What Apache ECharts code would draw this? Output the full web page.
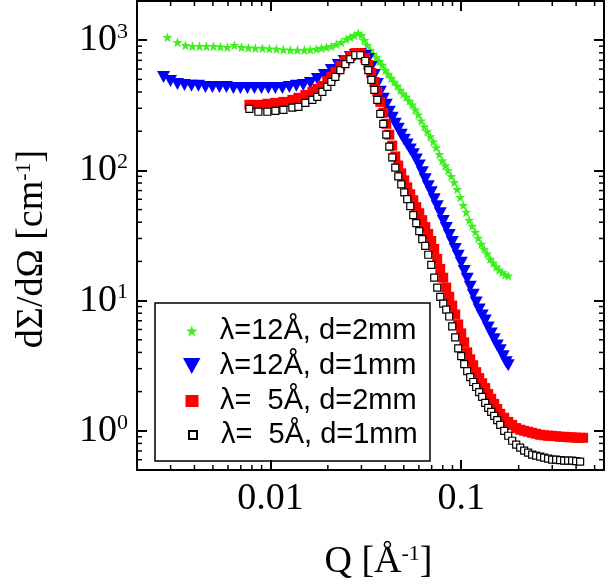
<!DOCTYPE html>
<html><head><meta charset="utf-8">
<script src="https://cdn.jsdelivr.net/npm/echarts@6/dist/echarts.min.js"></script>
<style>html,body{margin:0;padding:0;background:#fff}#c{width:610px;height:586px}</style>
</head><body><div id="c"></div>
<script>
const seriesNames = ['λ=12Å, d=2mm', 'λ=12Å, d=1mm', 'λ=  5Å, d=2mm', 'λ=  5Å, d=1mm'];

const qGreen = [0.002889,0.003259,0.003589,0.003905,0.004248,0.004623,0.005030,0.005471,0.005954,0.006477,0.007050,0.007670,0.008345,0.009081,0.009880,0.01075,0.01170,0.01273,0.01385,0.01507,0.01619,0.01741,0.01849,0.01964,0.02086,0.02215,0.02354,0.02500,0.02623,0.02753,0.02888,0.02995,0.03105,0.03220,0.03339,0.03462,0.03589,0.03721,0.03859,0.04001,0.04148,0.04301,0.04460,0.04624,0.04793,0.04970,0.05152,0.05342,0.05540,0.05744,0.05955,0.06174,0.06401,0.06637,0.06882,0.07135,0.07398,0.07671,0.07954,0.08246,0.08550,0.08865,0.09192,0.09530,0.09881,0.1024,0.1062,0.1101,0.1142,0.1184,0.1227,0.1273,0.1319,0.1368,0.1418,0.1471,0.1525,0.1581,0.1640,0.1700,0.1763];
const iGreen = [1054,965,916,900,900,900,900,892,884,916,884,876,869,869,861,854,846,839,839,839,846,854,869,884,900,932,965,1018,1054,1092,1131,1092,1000,916,839,782,742,691,645,590,550,513,478,446,415,387,367,342,319,292,268,241,217,199,182,166,150,133,119,109,100,90.0,81.0,71.6,62.2,54.0,47.8,41.5,37.4,33.6,30.3,27.2,24.9,22.9,20.9,19.5,18.2,17.2,16.4,15.8,15.5];

const qBlue = [0.002754,0.002995,0.003259,0.003546,0.003858,0.004198,0.004567,0.004969,0.005408,0.005884,0.006401,0.006966,0.007580,0.008247,0.008972,0.009761,0.01062,0.01156,0.01257,0.01368,0.01488,0.01619,0.01762,0.01917,0.02086,0.02270,0.02440,0.02623,0.02786,0.02959,0.03143,0.03259,0.03379,0.03504,0.03633,0.03767,0.03905,0.04049,0.04198,0.04352,0.04513,0.04679,0.04851,0.05029,0.05214,0.05408,0.05608,0.05814,0.06027,0.06249,0.06479,0.06718,0.06965,0.07221,0.07487,0.07765,0.08050,0.08347,0.08654,0.08973,0.09303,0.09645,0.1,0.1037,0.1075,0.1115,0.1156,0.1198,0.1242,0.1288,0.1336,0.1385,0.1436,0.1489,0.1544,0.1601,0.1660,0.1720,0.1763];
const iBlue = [522,486,461,453,446,446,438,438,438,438,430,430,430,430,430,430,430,430,438,446,453,470,504,540,590,645,691,742,768,782,755,716,622,540,461,401,355,319,282,254,228,209,188,172,158,145,133,121,109,96.6,85.4,75.5,67.9,60.1,53.1,46.9,40.8,36.1,31.9,28.2,24.9,22.1,19.5,16.9,14.7,12.8,11.1,9.65,8.54,7.68,7.04,6.22,5.60,5.04,4.53,4.15,3.74,3.36,3.19];

const qRed = [0.00776,0.00865,0.00964,0.01062,0.01170,0.01304,0.01402,0.01525,0.01659,0.01762,0.01872,0.01988,0.02086,0.02189,0.02326,0.02470,0.02623,0.02786,0.02959,0.03143,0.03259,0.03379,0.03504,0.03633,0.03767,0.03905,0.04049,0.04198,0.04352,0.04513,0.04679,0.04851,0.05029,0.05214,0.05408,0.05608,0.05814,0.06027,0.06249,0.06479,0.06718,0.06965,0.07221,0.07487,0.07765,0.08050,0.08347,0.08654,0.08973,0.09303,0.09645,0.1,0.1037,0.1075,0.1115,0.1156,0.1198,0.1242,0.1288,0.1336,0.1385,0.1436,0.1489,0.1544,0.1601,0.1680,0.1763,0.1849,0.1941,0.2037,0.2137,0.2243,0.2353,0.2470,0.2592,0.2720,0.2854,0.2995,0.3143,0.3298,0.3461,0.3633,0.3812,0.4001,0.4198,0.4352];
const iRed = [319,319,325,330,336,348,361,380,401,423,446,486,522,570,633,704,755,796,796,729,645,560,478,401,336,277,228,188,155,128,109,94.9,83.9,74.1,65.6,59.0,52.2,46.9,41.5,36.7,32.5,28.7,24.9,20.9,17.5,15.0,12.6,10.7,9.16,7.82,6.56,5.60,4.78,4.01,3.54,3.19,2.82,2.54,2.32,2.13,1.92,1.76,1.61,1.47,1.35,1.26,1.17,1.11,1.05,1.02,1.0,0.983,0.965,0.949,0.932,0.924,0.916,0.916,0.908,0.900,0.900,0.892,0.892,0.884,0.884,0.884];

const qBlack = [0.00776,0.00865,0.00964,0.01062,0.01170,0.01304,0.01402,0.01525,0.01659,0.01762,0.01872,0.01988,0.02086,0.02189,0.02326,0.02470,0.02623,0.02786,0.02959,0.03143,0.03259,0.03379,0.03504,0.03633,0.03767,0.03905,0.04049,0.04198,0.04352,0.04513,0.04679,0.04851,0.05029,0.05214,0.05408,0.05608,0.05814,0.06027,0.06249,0.06479,0.06718,0.06965,0.07221,0.07487,0.07765,0.08050,0.08347,0.08654,0.08973,0.09303,0.09645,0.1,0.1037,0.1075,0.1115,0.1156,0.1198,0.1242,0.1288,0.1336,0.1385,0.1436,0.1489,0.1544,0.1601,0.1680,0.1763,0.1849,0.1941,0.2037,0.2137,0.2243,0.2353,0.2470,0.2592,0.2720,0.2854,0.2995,0.3143,0.3298,0.3461,0.3633,0.3812,0.4001,0.4198];
const iBlack = [297,282,282,287,292,303,308,330,348,367,401,438,478,522,590,656,716,768,768,692,590,495,415,348,272,228,188,152,126,105,90.0,78.2,67.9,60.1,53.1,45.4,39.4,34.2,29.7,26.3,22.5,18.8,15.0,12.6,10.7,9.49,8.54,7.55,6.33,5.22,4.30,3.74,3.25,2.87,2.58,2.37,2.17,1.98,1.82,1.64,1.50,1.40,1.30,1.21,1.11,1.0,0.916,0.839,0.782,0.742,0.704,0.679,0.656,0.645,0.633,0.622,0.612,0.601,0.601,0.595,0.590,0.590,0.590,0.585,0.580];

const xRange = [0.002, 0.56];
const yRange = [0.5, 2000];
const xTicks = [0.01, 0.1];
const xTickLabels = ['0.01', '0.1'];
const yTicks = [1, 10, 100, 1000];
const yTickExp = ['0', '1', '2', '3'];
const xMinor = [0.003,0.004,0.005,0.006,0.007,0.008,0.009,0.02,0.03,0.04,0.05,0.06,0.07,0.08,0.09,0.2,0.3,0.4,0.5];
const yMinor = [0.6,0.7,0.8,0.9,2,3,4,5,6,7,8,9,20,30,40,50,60,70,80,90,200,300,400,500,600,700,800,900];

const zip = (q, v) => q.map((x, k) => [x, v[k]]);
const findTick = (ticks, v) => ticks.findIndex(t => Math.abs(Math.log10(v / t)) < 1e-6);

const SERIF = 'Liberation Serif';
const SANS = 'Liberation Sans';
const starPath = 'path://M10,0L12.35,6.76L19.51,6.91L13.8,11.24L15.88,18.09L10,14L4.12,18.09L6.2,11.24L0.49,6.91L7.65,6.76Z';
const triPath = 'path://M0,0L12,0L6,11Z';
const colors = ['#3cf01e', '#0000ff', '#ff0000', '#000000'];

const chart = echarts.init(document.getElementById('c'), null, {renderer: 'canvas'});

const axisLineStyle = {color: '#000', width: 2};
const tickStyle = {color: '#000', width: 2};

function minorRender(isX) {
  return function (params, api) {
    const len = 5;
    if (isX) {
      const v = api.value(0);
      const pb = api.coord([v, yRange[0]]);
      const pt = api.coord([v, yRange[1]]);
      return {type: 'group', children: [
        {type: 'line', shape: {x1: pb[0], y1: pb[1], x2: pb[0], y2: pb[1] - len}, style: {stroke: '#000', lineWidth: 1.5}},
        {type: 'line', shape: {x1: pt[0], y1: pt[1], x2: pt[0], y2: pt[1] + len}, style: {stroke: '#000', lineWidth: 1.5}}
      ]};
    } else {
      const v = api.value(1);
      const pl = api.coord([xRange[0], v]);
      const pr = api.coord([xRange[1], v]);
      return {type: 'group', children: [
        {type: 'line', shape: {x1: pl[0], y1: pl[1], x2: pl[0] + len, y2: pl[1]}, style: {stroke: '#000', lineWidth: 1.5}},
        {type: 'line', shape: {x1: pr[0], y1: pr[1], x2: pr[0] - len, y2: pr[1]}, style: {stroke: '#000', lineWidth: 1.5}}
      ]};
    }
  };
}

// legend layout (icon centre x, text start x, row centres)
const legendIconX = 192, legendTextX = 220;
const legendRows = [331, 366, 401, 435];
const legendIcons = [starPath, triPath, 'rect', 'rect'];
const legendIconW = [12, 18, 13, 8];
const legendIconH = [11, 16, 12, 8];
const legends = seriesNames.map((n, k) => {
  const w = legendIconW[k];
  const pad = legendTextX - (legendIconX + w / 2 + 5);
  return {
    orient: 'vertical', padding: 0, selectedMode: false,
    itemWidth: w, itemHeight: legendIconH[k],
    left: legendIconX - w / 2, top: legendRows[k] - 16,
    data: [{name: n, icon: legendIcons[k]}],
    formatter: nm => '{p| }{t|' + nm + '}',
    textStyle: {fontFamily: SANS, fontSize: 29, color: '#000', lineHeight: 32,
      rich: {p: {width: pad, fontSize: 29, lineHeight: 32}, t: {fontFamily: SANS, fontSize: 29, color: '#000', lineHeight: 32}}}
  };
});

const option = {
  animation: false,
  backgroundColor: '#fff',
  grid: {left: 137, right: 6, top: 1, bottom: 114, containLabel: false},
  legend: legends,
  graphic: [{type: 'rect', shape: {x: 155, y: 303, width: 275, height: 158}, style: {fill: 'none', stroke: '#000', lineWidth: 1.5}, z: 100}],
  xAxis: [{
    type: 'log', logBase: 10, min: xRange[0], max: xRange[1],
    axisLine: {show: true, lineStyle: axisLineStyle},
    axisTick: {show: true, inside: true, length: 10, lineStyle: tickStyle},
    splitLine: {show: false},
    axisLabel: {
      margin: 10, fontFamily: SERIF, fontSize: 38, color: '#000',
      formatter: v => { const k = findTick(xTicks, v); return k < 0 ? '' : xTickLabels[k]; }
    },
    name: '{a|Q [Å}{s|-1}{a|]}', nameLocation: 'middle', nameGap: 73,
    nameTextStyle: {padding: [0, 0, 0, 16], rich: {
      a: {fontFamily: SERIF, fontSize: 38, color: '#000'},
      s: {fontFamily: SERIF, fontSize: 22, color: '#000', verticalAlign: 'top'}
    }}
  }, {
    type: 'log', logBase: 10, min: xRange[0], max: xRange[1], position: 'top',
    axisLine: {show: true, lineStyle: axisLineStyle},
    axisTick: {show: true, inside: true, length: 10, lineStyle: tickStyle},
    splitLine: {show: false}, axisLabel: {show: false}
  }],
  yAxis: [{
    type: 'log', logBase: 10, min: yRange[0], max: yRange[1],
    axisLine: {show: true, lineStyle: axisLineStyle},
    axisTick: {show: true, inside: true, length: 10, lineStyle: tickStyle},
    splitLine: {show: false},
    axisLabel: {
      margin: 9,
      formatter: v => { const k = findTick(yTicks, v); return k < 0 ? '' : '{b|10}{s|' + yTickExp[k] + '}'; },
      rich: {
        b: {fontFamily: SERIF, fontSize: 38, color: '#000'},
        s: {fontFamily: SERIF, fontSize: 22, color: '#000', verticalAlign: 'top'}
      }
    },
    name: '{a|dΣ/dΩ [cm}{s|-1}{a|]}', nameLocation: 'middle', nameGap: 86,
    nameTextStyle: {padding: [0, 27, 0, 0], rich: {
      a: {fontFamily: SERIF, fontSize: 38, color: '#000'},
      s: {fontFamily: SERIF, fontSize: 22, color: '#000', verticalAlign: 'top'}
    }}
  }, {
    type: 'log', logBase: 10, min: yRange[0], max: yRange[1], position: 'right',
    axisLine: {show: true, lineStyle: axisLineStyle},
    axisTick: {show: true, inside: true, length: 10, lineStyle: tickStyle},
    splitLine: {show: false}, axisLabel: {show: false}
  }],
  series: [
    {name: seriesNames[0], type: 'scatter', data: zip(qGreen, iGreen), symbol: starPath, symbolSize: 10,
     itemStyle: {color: colors[0], opacity: 1}},
    {name: seriesNames[1], type: 'scatter', data: zip(qBlue, iBlue), symbol: triPath, symbolSize: [13, 12],
     itemStyle: {color: colors[1], opacity: 1}},
    {name: seriesNames[2], type: 'scatter', data: zip(qRed, iRed), symbol: 'rect', symbolSize: 10,
     itemStyle: {color: colors[2], opacity: 1}},
    {name: seriesNames[3], type: 'scatter', data: zip(qBlack, iBlack), symbol: 'rect', symbolSize: 7,
     itemStyle: {color: '#ffffff', borderColor: '#000', borderWidth: 1.2, opacity: 1}},
    {type: 'custom', silent: true, z: 10, data: xMinor.map(v => [v, 1]), renderItem: minorRender(true)},
    {type: 'custom', silent: true, z: 10, data: yMinor.map(v => [0.01, v]), renderItem: minorRender(false)}
  ]
};
chart.setOption(option);
</script>
</body></html>
